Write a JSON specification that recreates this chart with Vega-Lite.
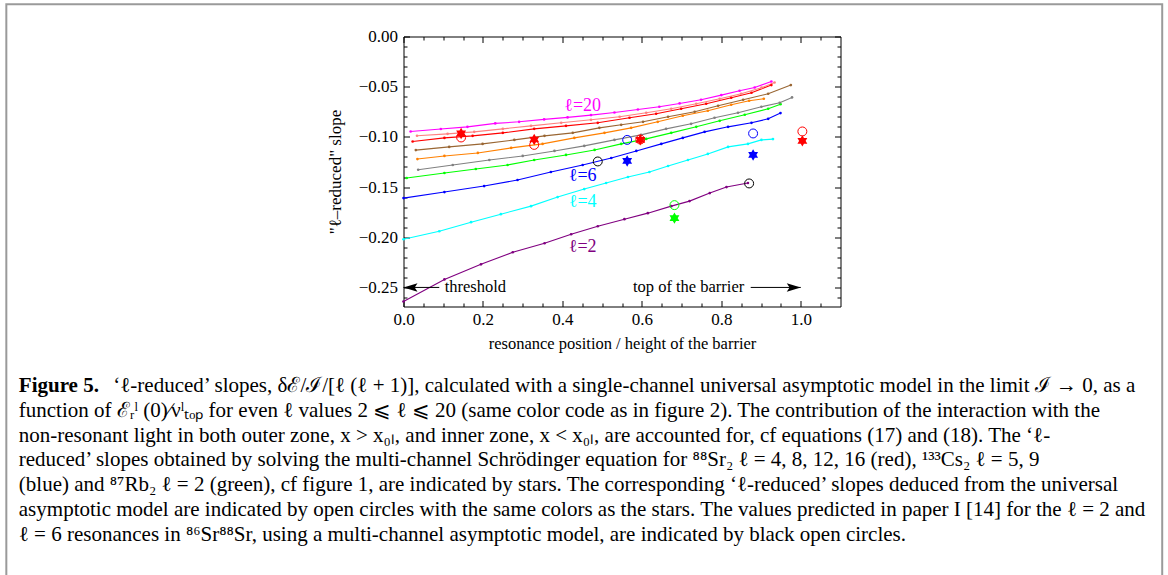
{
  "$schema": "https://vega.github.io/schema/vega-lite/v6.json",
  "width": 437,
  "height": 270,
  "padding": {"left": 4.5, "top": 2.5, "right": 0, "bottom": 0},
  "background": "white",
  "config": {
    "view": {"stroke": "black", "strokeWidth": 1},
    "axis": {"grid": false, "tickColor": "black", "tickWidth": 1, "labelFont": "Liberation Serif", "labelFontSize": 17, "labelColor": "black", "labelFlush": false, "titleFont": "Liberation Serif", "titleFontSize": 17, "titleFontWeight": "normal", "titleColor": "black", "domain": false},
    "text": {"font": "Liberation Serif"}
  },
  "title": {
    "text": "Figure 5.",
    "subtitle": [
      "\u200b\u00a0\u00a0\u00a0\u00a0\u00a0\u00a0\u00a0\u00a0\u00a0\u00a0\u00a0\u00a0\u00a0\u00a0\u00a0\u00a0\u00a0\u00a0‘ℓ-reduced’ slopes, δℰ/ℐ/[ℓ (ℓ + 1)], calculated with a single-channel universal asymptotic model in the limit ℐ → 0, as a",
      "function of ℰᵣˡ (0)∕νˡₜₒₚ for even ℓ values 2 ⩽ ℓ ⩽ 20 (same color code as in figure 2). The contribution of the interaction with the",
      "non-resonant light in both outer zone, x > x₀ₗ, and inner zone, x < x₀ₗ, are accounted for, cf equations (17) and (18). The ‘ℓ-",
      "reduced’ slopes obtained by solving the multi-channel Schrödinger equation for ⁸⁸Sr₂ ℓ = 4,  8,  12,  16 (red), ¹³³Cs₂ ℓ = 5, 9",
      "(blue) and ⁸⁷Rb₂ ℓ = 2 (green), cf figure 1, are indicated by stars. The corresponding ‘ℓ-reduced’ slopes deduced from the universal",
      "asymptotic model are indicated by open circles with the same colors as the stars. The values predicted in paper I [14] for the ℓ = 2 and",
      "ℓ = 6 resonances in ⁸⁶Sr⁸⁸Sr, using a multi-channel asymptotic model, are indicated by black open circles."
    ],
    "orient": "bottom",
    "anchor": "start",
    "frame": "group",
    "dx": -384.7,
    "offset": -244.3,
    "font": "Liberation Serif",
    "fontSize": 21,
    "fontWeight": "bold",
    "color": "black",
    "subtitleFont": "Liberation Serif",
    "subtitleFontSize": 21,
    "subtitleColor": "black",
    "subtitleLineHeight": 24.7,
    "subtitlePadding": -21
  },
  "datasets": {
    "frame": [{"x": -0.99975, "x2": 1.9098, "y": 0.0321, "y2": -0.58}],
    "curves": [
      {"l":"2","x":0,"y":-0.264},{"l":"2","x":0.103,"y":-0.242},{"l":"2","x":0.195,"y":-0.227},{"l":"2","x":0.275,"y":-0.215},{"l":"2","x":0.355,"y":-0.206},{"l":"2","x":0.422,"y":-0.197},{"l":"2","x":0.489,"y":-0.189},{"l":"2","x":0.556,"y":-0.182},{"l":"2","x":0.615,"y":-0.176},{"l":"2","x":0.674,"y":-0.169},{"l":"2","x":0.72,"y":-0.164},{"l":"2","x":0.771,"y":-0.156},{"l":"2","x":0.813,"y":-0.15},{"l":"2","x":0.867,"y":-0.146},
      {"l":"4","x":0,"y":-0.202},{"l":"4","x":0.09,"y":-0.194},{"l":"4","x":0.17,"y":-0.185},{"l":"4","x":0.245,"y":-0.177},{"l":"4","x":0.321,"y":-0.169},{"l":"4","x":0.388,"y":-0.16},{"l":"4","x":0.455,"y":-0.152},{"l":"4","x":0.51,"y":-0.146},{"l":"4","x":0.565,"y":-0.14},{"l":"4","x":0.619,"y":-0.135},{"l":"4","x":0.666,"y":-0.129},{"l":"4","x":0.716,"y":-0.123},{"l":"4","x":0.766,"y":-0.117},{"l":"4","x":0.817,"y":-0.11},{"l":"4","x":0.867,"y":-0.107},{"l":"4","x":0.901,"y":-0.103},{"l":"4","x":0.93,"y":-0.1022},
      {"l":"6","x":0,"y":-0.161},{"l":"6","x":0.103,"y":-0.155},{"l":"6","x":0.203,"y":-0.149},{"l":"6","x":0.287,"y":-0.143},{"l":"6","x":0.371,"y":-0.135},{"l":"6","x":0.451,"y":-0.128},{"l":"6","x":0.523,"y":-0.121},{"l":"6","x":0.586,"y":-0.114},{"l":"6","x":0.649,"y":-0.107},{"l":"6","x":0.703,"y":-0.101},{"l":"6","x":0.758,"y":-0.095},{"l":"6","x":0.817,"y":-0.09},{"l":"6","x":0.876,"y":-0.086},{"l":"6","x":0.918,"y":-0.082},{"l":"6","x":0.949,"y":-0.0763},
      {"l":"8","x":0.008,"y":-0.141},{"l":"8","x":0.103,"y":-0.136},{"l":"8","x":0.182,"y":-0.132},{"l":"8","x":0.262,"y":-0.128},{"l":"8","x":0.329,"y":-0.123},{"l":"8","x":0.409,"y":-0.118},{"l":"8","x":0.481,"y":-0.113},{"l":"8","x":0.548,"y":-0.107},{"l":"8","x":0.611,"y":-0.102},{"l":"8","x":0.674,"y":-0.096},{"l":"8","x":0.737,"y":-0.09},{"l":"8","x":0.796,"y":-0.084},{"l":"8","x":0.859,"y":-0.078},{"l":"8","x":0.918,"y":-0.072},{"l":"8","x":0.949,"y":-0.0674},
      {"l":"10","x":0.037,"y":-0.1328},{"l":"10","x":0.124,"y":-0.128},{"l":"10","x":0.216,"y":-0.123},{"l":"10","x":0.3,"y":-0.119},{"l":"10","x":0.38,"y":-0.114},{"l":"10","x":0.455,"y":-0.109},{"l":"10","x":0.531,"y":-0.103},{"l":"10","x":0.598,"y":-0.098},{"l":"10","x":0.661,"y":-0.092},{"l":"10","x":0.724,"y":-0.087},{"l":"10","x":0.783,"y":-0.081},{"l":"10","x":0.842,"y":-0.076},{"l":"10","x":0.901,"y":-0.07},{"l":"10","x":0.947,"y":-0.066},{"l":"10","x":0.978,"y":-0.0607},
      {"l":"12","x":0.035,"y":-0.1221},{"l":"12","x":0.103,"y":-0.119},{"l":"12","x":0.187,"y":-0.116},{"l":"12","x":0.271,"y":-0.111},{"l":"12","x":0.35,"y":-0.107},{"l":"12","x":0.43,"y":-0.101},{"l":"12","x":0.506,"y":-0.096},{"l":"12","x":0.573,"y":-0.091},{"l":"12","x":0.64,"y":-0.085},{"l":"12","x":0.703,"y":-0.079},{"l":"12","x":0.766,"y":-0.074},{"l":"12","x":0.825,"y":-0.068},{"l":"12","x":0.87,"y":-0.064},{"l":"12","x":0.907,"y":-0.062},
      {"l":"14","x":0.031,"y":-0.1132},{"l":"14","x":0.115,"y":-0.11},{"l":"14","x":0.199,"y":-0.107},{"l":"14","x":0.279,"y":-0.103},{"l":"14","x":0.355,"y":-0.099},{"l":"14","x":0.426,"y":-0.096},{"l":"14","x":0.493,"y":-0.091},{"l":"14","x":0.548,"y":-0.088},{"l":"14","x":0.603,"y":-0.085},{"l":"14","x":0.666,"y":-0.08},{"l":"14","x":0.733,"y":-0.075},{"l":"14","x":0.792,"y":-0.069},{"l":"14","x":0.855,"y":-0.063},{"l":"14","x":0.918,"y":-0.057},{"l":"14","x":0.975,"y":-0.0484},
      {"l":"16","x":0.023,"y":-0.1046},{"l":"16","x":0.103,"y":-0.101},{"l":"16","x":0.174,"y":-0.099},{"l":"16","x":0.25,"y":-0.096},{"l":"16","x":0.329,"y":-0.092},{"l":"16","x":0.409,"y":-0.089},{"l":"16","x":0.489,"y":-0.086},{"l":"16","x":0.569,"y":-0.081},{"l":"16","x":0.636,"y":-0.077},{"l":"16","x":0.699,"y":-0.072},{"l":"16","x":0.762,"y":-0.067},{"l":"16","x":0.825,"y":-0.061},{"l":"16","x":0.876,"y":-0.056},{"l":"16","x":0.926,"y":-0.0484},
      {"l":"18","x":0.034,"y":-0.0989},{"l":"18","x":0.111,"y":-0.097},{"l":"18","x":0.178,"y":-0.095},{"l":"18","x":0.25,"y":-0.092},{"l":"18","x":0.321,"y":-0.089},{"l":"18","x":0.397,"y":-0.086},{"l":"18","x":0.472,"y":-0.083},{"l":"18","x":0.544,"y":-0.08},{"l":"18","x":0.611,"y":-0.076},{"l":"18","x":0.674,"y":-0.072},{"l":"18","x":0.737,"y":-0.067},{"l":"18","x":0.796,"y":-0.062},{"l":"18","x":0.85,"y":-0.057},{"l":"18","x":0.901,"y":-0.051},{"l":"18","x":0.934,"y":-0.0458},
      {"l":"20","x":0.018,"y":-0.0946},{"l":"20","x":0.094,"y":-0.0922},{"l":"20","x":0.161,"y":-0.09},{"l":"20","x":0.231,"y":-0.0866},{"l":"20","x":0.291,"y":-0.085},{"l":"20","x":0.354,"y":-0.0826},{"l":"20","x":0.413,"y":-0.0806},{"l":"20","x":0.472,"y":-0.0783},{"l":"20","x":0.531,"y":-0.0757},{"l":"20","x":0.59,"y":-0.0727},{"l":"20","x":0.644,"y":-0.07},{"l":"20","x":0.695,"y":-0.0667},{"l":"20","x":0.749,"y":-0.063},{"l":"20","x":0.8,"y":-0.0584},{"l":"20","x":0.846,"y":-0.054},{"l":"20","x":0.884,"y":-0.0508},{"l":"20","x":0.926,"y":-0.0448}
    ],
    "stars": [
      {"mol":"Sr2","x":0.145,"y":-0.0966},{"mol":"Sr2","x":0.329,"y":-0.1026},{"mol":"Sr2","x":0.596,"y":-0.103},{"mol":"Sr2","x":1.004,"y":-0.104},
      {"mol":"Cs2","x":0.563,"y":-0.124},{"mol":"Cs2","x":0.88,"y":-0.118},
      {"mol":"Rb2","x":0.682,"y":-0.181}
    ],
    "circles": [
      {"mol":"Sr2","x":0.145,"y":-0.1006},{"mol":"Sr2","x":0.329,"y":-0.108},{"mol":"Sr2","x":0.596,"y":-0.1026},{"mol":"Sr2","x":1.004,"y":-0.0946},
      {"mol":"Cs2","x":0.563,"y":-0.103},{"mol":"Cs2","x":0.88,"y":-0.0966},
      {"mol":"Rb2","x":0.682,"y":-0.168},
      {"mol":"SrSr","x":0.489,"y":-0.1245},{"mol":"SrSr","x":0.87,"y":-0.1464}
    ],
    "labels": [
      {"l":"20","text":"ℓ=20","x":0.451,"y":-0.0697},
      {"l":"6","text":"ℓ=6","x":0.451,"y":-0.1388},
      {"l":"4","text":"ℓ=4","x":0.451,"y":-0.1647},
      {"l":"2","text":"ℓ=2","x":0.451,"y":-0.2095}
    ],
    "arrows": [
      {"dir":"left","text":"threshold","tip":0,"tail":0.09,"textx":0.181,"y":-0.25},
      {"dir":"right","text":"top of the barrier","tip":1.0,"tail":0.874,"textx":0.7176,"y":-0.25}
    ]
  },
  "resolve": {"scale": {"color": "independent", "shape": "independent"}, "axis": {"x": "independent", "y": "independent"}},
  "layer": [
    {
      "data": {"name": "frame"},
      "mark": {"type": "rect", "fill": "white", "fillOpacity": 0, "stroke": "#9a9a9a", "strokeWidth": 2},
      "encoding": {
        "x": {"field": "x", "type": "quantitative", "axis": null},
        "x2": {"field": "x2"},
        "y": {"field": "y", "type": "quantitative", "axis": null},
        "y2": {"field": "y2"}
      }
    },
    {
      "data": {"name": "curves"},
      "mark": {"type": "line", "strokeWidth": 1.1, "point": {"filled": true, "size": 7}},
      "encoding": {
        "x": {"field": "x", "type": "quantitative", "scale": {"domain": [0, 1.1], "nice": false},
          "axis": {"orient": "bottom", "values": [0, 0.2, 0.4, 0.6, 0.8, 1.0], "format": ".1f", "tickSize": -6, "labelPadding": 11, "title": "resonance position / height of the barrier", "titlePadding": 8, "titleFontSize": 16.5}},
        "y": {"field": "y", "type": "quantitative", "scale": {"domain": [-0.269, 0], "nice": false, "zero": false},
          "axis": {"orient": "left", "values": [-0.25, -0.2, -0.15, -0.1, -0.05, 0], "format": ".2f", "tickSize": -6, "labelPadding": 12, "title": "\"ℓ–reduced\" slope", "titlePadding": 14}},
        "color": {"field": "l", "type": "nominal", "legend": null,
          "scale": {"domain": ["2","4","6","8","10","12","14","16","18","20"], "range": ["#800080","#00ffff","#0000ff","#00ff00","#808080","#ff8000","#996633","#ff0000","#ff8080","#ff00ff"]}},
        "detail": {"field": "l"}
      }
    },
    {
      "data": {"name": "stars"},
      "mark": {"type": "point", "filled": true, "opacity": 1, "size": 130, "shape": "M0,-1 L0.866,0.5 L-0.866,0.5 Z M0,1 L-0.866,-0.5 L0.866,-0.5 Z"},
      "encoding": {
        "x": {"field": "x", "type": "quantitative",
          "axis": {"orient": "bottom", "values": [0.05,0.1,0.15,0.25,0.3,0.35,0.45,0.5,0.55,0.65,0.7,0.75,0.85,0.9,0.95,1.05], "tickSize": -3.5, "labels": false, "title": null}},
        "y": {"field": "y", "type": "quantitative",
          "axis": {"orient": "left", "values": [-0.26,-0.24,-0.23,-0.22,-0.21,-0.19,-0.18,-0.17,-0.16,-0.14,-0.13,-0.12,-0.11,-0.09,-0.08,-0.07,-0.06,-0.04,-0.03,-0.02,-0.01], "tickSize": -3.5, "labels": false, "title": null}},
        "color": {"field": "mol", "type": "nominal", "legend": null,
          "scale": {"domain": ["Sr2","Cs2","Rb2"], "range": ["#ff0000","#0000ff","#00ff00"]}}
      }
    },
    {
      "data": {"name": "circles"},
      "mark": {"type": "point", "filled": false, "opacity": 1, "size": 80, "strokeWidth": 1},
      "encoding": {
        "x": {"field": "x", "type": "quantitative",
          "axis": {"orient": "top", "values": [0, 0.2, 0.4, 0.6, 0.8, 1.0], "tickSize": -6, "labels": false, "title": null}},
        "y": {"field": "y", "type": "quantitative",
          "axis": {"orient": "right", "values": [-0.25, -0.2, -0.15, -0.1, -0.05, 0], "tickSize": -6, "labels": false, "title": null}},
        "color": {"field": "mol", "type": "nominal", "legend": null,
          "scale": {"domain": ["Sr2","Cs2","Rb2","SrSr"], "range": ["#ff0000","#0000ff","#00ff00","#000000"]}}
      }
    },
    {
      "data": {"name": "labels"},
      "mark": {"type": "text", "fontSize": 18, "align": "center", "baseline": "middle"},
      "encoding": {
        "x": {"field": "x", "type": "quantitative",
          "axis": {"orient": "top", "values": [0.05,0.1,0.15,0.25,0.3,0.35,0.45,0.5,0.55,0.65,0.7,0.75,0.85,0.9,0.95,1.05], "tickSize": -3.5, "labels": false, "title": null}},
        "y": {"field": "y", "type": "quantitative",
          "axis": {"orient": "right", "values": [-0.26,-0.24,-0.23,-0.22,-0.21,-0.19,-0.18,-0.17,-0.16,-0.14,-0.13,-0.12,-0.11,-0.09,-0.08,-0.07,-0.06,-0.04,-0.03,-0.02,-0.01], "tickSize": -3.5, "labels": false, "title": null}},
        "text": {"field": "text"},
        "color": {"field": "l", "type": "nominal", "legend": null,
          "scale": {"domain": ["2","4","6","8","10","12","14","16","18","20"], "range": ["#800080","#00ffff","#0000ff","#00ff00","#808080","#ff8000","#996633","#ff0000","#ff8080","#ff00ff"]}}
      }
    },
    {
      "mark": {"type": "rule", "color": "black", "strokeWidth": 1, "strokeDash": [7, 5]},
      "encoding": {"x": {"datum": 1.0, "type": "quantitative", "axis": null}}
    },
    {
      "data": {"name": "arrows"},
      "mark": {"type": "rule", "color": "black", "strokeWidth": 1},
      "encoding": {
        "x": {"field": "tail", "type": "quantitative", "axis": null},
        "x2": {"field": "tip"},
        "y": {"field": "y", "type": "quantitative", "axis": null}
      }
    },
    {
      "data": {"name": "arrows"},
      "mark": {"type": "point", "filled": true, "opacity": 1, "size": 196, "color": "black"},
      "encoding": {
        "x": {"field": "tip", "type": "quantitative", "axis": null},
        "y": {"field": "y", "type": "quantitative", "axis": null},
        "shape": {"field": "dir", "type": "nominal", "legend": null,
          "scale": {"domain": ["left", "right"], "range": ["M0,0 L2,-0.6 L1.6,0 L2,0.6 Z", "M0,0 L-2,-0.6 L-1.6,0 L-2,0.6 Z"]}}
      }
    },
    {
      "data": {"name": "arrows"},
      "mark": {"type": "text", "fontSize": 16.5, "baseline": "middle", "align": "center", "color": "black"},
      "encoding": {
        "x": {"field": "textx", "type": "quantitative", "axis": null},
        "y": {"field": "y", "type": "quantitative", "axis": null},
        "text": {"field": "text"}
      }
    }
  ]
}
